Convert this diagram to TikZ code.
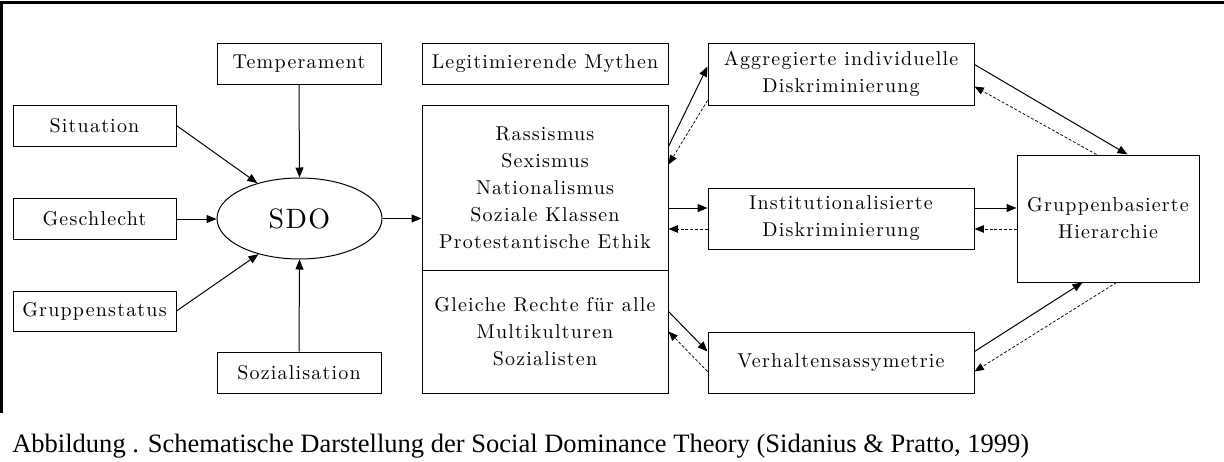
\documentclass[tikz,border=0pt]{standalone}
\usepackage{fontspec}
\usetikzlibrary{arrows.meta,shapes.geometric,calc}
\newfontfamily\capfont{Liberation Serif}
\newfontfamily\lmfont{lmroman10-regular.otf}[LetterSpace=6]
\newfontfamily\lmsdo{lmroman10-regular.otf}[LetterSpace=5]
\newcommand\bxfont{\lmfont\fontsize{15}{20.25}\selectfont}
\newcommand\sdofont{\lmsdo\fontsize{21}{24}\selectfont}
\tikzset{
  box/.style 2 args={draw, line width=0.75pt, inner sep=0pt, align=center,
    minimum width=#1*0.75pt, minimum height=#2*0.75pt, font=\bxfont},
  arr/.style={line width=0.75pt, -{Triangle[length=7.5pt,width=6pt]}},
  darr/.style={line width=0.55pt, dash pattern=on 2.2pt off 1.4pt,
    -{Triangle[length=7pt,width=5.6pt]}},
  frame/.style={line width=2.3pt}
}
\begin{document}
\begin{tikzpicture}[x=0.75pt,y=-0.75pt]
\useasboundingbox (0,0) rectangle (1224,461);
% outer rule lines
\draw[frame] (0,2.5) -- (1224,2.5);
\draw[frame] (1.5,1.5) -- (1.5,413);

% influences on SDO
\node[box={164}{41}] (temp) at (299,63.5) {Temperament};
\node[box={163}{41}] (sit) at (94.5,125.5) {Situation};
\node[box={163}{41}] (ges) at (94.5,219) {Geschlecht};
\node[box={163}{40}] (grp) at (94.5,311) {Gruppenstatus};
\node[box={164}{41}] (soz) at (299,372.5) {Sozialisation};
\node[draw, line width=0.75pt, ellipse, inner sep=0pt,
      minimum width=165*0.75pt, minimum height=81*0.75pt, font=\sdofont] (sdo) at (299.5,218.5) {SDO};

% legitimizing myths
\node[box={246}{41}] (leg) at (545,63.5) {Legitimierende Mythen};
\node[box={246}{165}] (enh) at (545,187.5) {Rassismus\\Sexismus\\Nationalismus\\Soziale Klassen\\Protestantische Ethik};
\node[box={246}{123}] (att) at (545,331.5) {Gleiche Rechte für alle\\Multikulturen\\Sozialisten};

% mechanisms
\node[box={266}{62}] (agg) at (841,74) {Aggregierte individuelle\\Diskriminierung};
\node[box={266}{61}] (inst) at (841,218.5) {Institutionalisierte\\Diskriminierung};
\node[box={266}{61}] (verh) at (841,362.5) {Verhaltensassymetrie};
\node[box={182}{127}] (hier) at (1108,218.5) {Gruppenbasierte\\Hierarchie};

% arrows into SDO
\draw[arr] (temp.south) -- (sdo.north);
\draw[arr] (sit.east) -- (sdo.140);
\draw[arr] (ges.east) -- (ges.east -| sdo.west);
\draw[arr] (grp.east) -- (sdo.221);
\draw[arr] (soz.north) -- (sdo.south);
\draw[arr] (sdo.east) -- (sdo.east -| enh.west);

% attachment points on the mechanism boxes
\coordinate (iwa) at ($(inst.west)+(0,-10.5)$);
\coordinate (iwb) at ($(inst.west)+(0,10.5)$);
\coordinate (iea) at ($(inst.east)+(0,-10.5)$);
\coordinate (ieb) at ($(inst.east)+(0,10.5)$);

% myths <-> discrimination
\draw[arr]  ($(enh.north east)+(0,42)$) -- ($(agg.north west)+(0,24)$);
\draw[darr] ($(agg.south west)+(0,-5)$) -- ($(enh.north east)+(0,60)$);
\draw[arr]  (iwa -| enh.east) -- (iwa);
\draw[darr] (iwb) -- (iwb -| enh.east);
\draw[arr]  ($(att.north east)+(0,42)$) -- ($(verh.north west)+(0,20)$);
\draw[darr] ($(verh.north west)+(0,40)$) -- ($(att.north east)+(0,62)$);

% discrimination <-> hierarchy
\draw[arr]  ($(agg.north east)+(0,22)$) -- ($(hier.north west)+(111,0)$);
\draw[darr] ($(hier.north west)+(80,0)$) -- ($(agg.north east)+(0,44)$);
\draw[arr]  (iea) -- (iea -| hier.west);
\draw[darr] (ieb -| hier.west) -- (ieb);
\draw[arr]  ($(verh.north east)+(0,20)$) -- ($(hier.south west)+(66,0)$);
\draw[darr] ($(hier.south west)+(100,0)$) -- ($(verh.north east)+(0,40)$);

% caption
\node[anchor=base west, inner sep=0pt, font=\capfont\fontsize{19.9}{23}\selectfont] (cap) at (12,452)
  {Abbildung . Schematische Darstellung der Social Dominance Theory (Sidanius \& Pratto, 1999)};
\end{tikzpicture}
\end{document}
